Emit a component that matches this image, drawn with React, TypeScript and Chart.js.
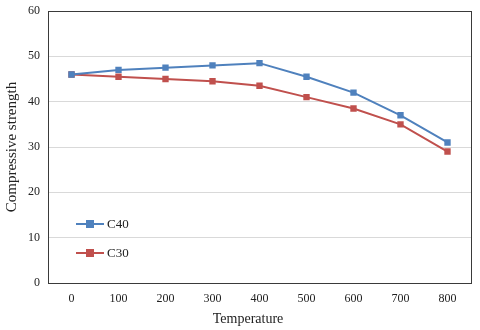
import React, { useEffect, useRef } from "react";
import { Chart, registerables } from "chart.js";

Chart.register(...registerables);

const categories = ["0", "100", "200", "300", "400", "500", "600", "700", "800"];
const c40Values = [46, 47, 47.5, 48, 48.5, 45.5, 42, 37, 31];
const c30Values = [46, 45.5, 45, 44.5, 43.5, 41, 38.5, 35, 29];
const seriesLabels = ["C40", "C30"];
const xTitle = "Temperature";
const yTitle = "Compressive strength";

const BLUE = "#4F81BD";
const RED = "#C0504D";
const FONT = "'Liberation Serif', 'Times New Roman', serif";

const frameAndLegend = {
  id: "frameAndLegend",
  afterDraw(chart: any) {
    const { ctx, chartArea } = chart;
    ctx.save();
    ctx.strokeStyle = "#3a3a3a";
    ctx.lineWidth = 1;
    ctx.strokeRect(
      Math.round(chartArea.left) + 0.5,
      Math.round(chartArea.top) + 0.5,
      Math.round(chartArea.right - chartArea.left),
      Math.round(chartArea.bottom - chartArea.top)
    );
    const items = chart.data.datasets;
    const x0 = chartArea.left + 28;
    const ys = [224, 253];
    items.forEach((ds: any, i: number) => {
      const y = ys[i];
      ctx.strokeStyle = ds.borderColor;
      ctx.lineWidth = 2;
      ctx.beginPath();
      ctx.moveTo(x0, y);
      ctx.lineTo(x0 + 28, y);
      ctx.stroke();
      ctx.fillStyle = ds.backgroundColor;
      ctx.fillRect(x0 + 14 - 4, y - 4, 8, 8);
      ctx.fillStyle = "#222";
      ctx.font = "13px " + FONT;
      ctx.textBaseline = "middle";
      ctx.textAlign = "left";
      ctx.fillText(ds.label, x0 + 31, y + 1);
    });
    // x-axis title
    ctx.fillStyle = "#222";
    ctx.font = "14px " + FONT;
    ctx.textAlign = "center";
    ctx.textBaseline = "middle";
    ctx.fillText(xTitle, 248, 319);
    ctx.restore();
  },
};

export default function App() {
  const ref = useRef<HTMLCanvasElement | null>(null);
  useEffect(() => {
    document.body.style.margin = "0";
    const canvas = ref.current!;
    const chart = new Chart(canvas, {
      type: "line",
      data: {
        labels: categories,
        datasets: [
          {
            label: seriesLabels[0],
            data: c40Values,
            borderColor: BLUE,
            backgroundColor: BLUE,
            borderWidth: 2,
            pointStyle: "rect",
            pointRadius: 4.5,
            pointBorderWidth: 0,
            tension: 0,
          },
          {
            label: seriesLabels[1],
            data: c30Values,
            borderColor: RED,
            backgroundColor: RED,
            borderWidth: 2,
            pointStyle: "rect",
            pointRadius: 4.5,
            pointBorderWidth: 0,
            tension: 0,
          },
        ],
      },
      options: {
        animation: false,
        responsive: false,
        devicePixelRatio: 1,
        layout: { padding: { top: 11, right: 9, left: 0, bottom: 0 } },
        plugins: {
          legend: { display: false },
          tooltip: { enabled: false },
        },
        scales: {
          x: {
            type: "category",
            offset: true,
            grid: { display: false, drawTicks: false },
            border: { display: false },
            ticks: {
              color: "#222",
              font: { family: FONT, size: 12 },
              padding: 9,
            },
            title: { display: false },
            afterFit(scale: any) {
              scale.height = 47;
              scale.paddingLeft = 0;
              scale.paddingRight = 0;
            },
          },
          y: {
            min: 0,
            max: 60,
            ticks: {
              stepSize: 10,
              color: "#222",
              font: { family: FONT, size: 12 },
              padding: 8,
            },
            grid: { color: "#D9D9D9", drawTicks: false, lineWidth: 1 },
            border: { display: false },
            title: {
              display: true,
              text: yTitle,
              color: "#222",
              font: { family: FONT, size: 15 },
              padding: { top: 3, bottom: 0 },
            },
            afterFit(scale: any) {
              scale.width = 48;
              scale.paddingTop = 0;
              scale.paddingBottom = 0;
            },
          },
        },
      },
      plugins: [frameAndLegend],
    });
    return () => chart.destroy();
  }, []);
  return <canvas ref={ref} width={480} height={330} style={{ display: "block" }} />;
}
